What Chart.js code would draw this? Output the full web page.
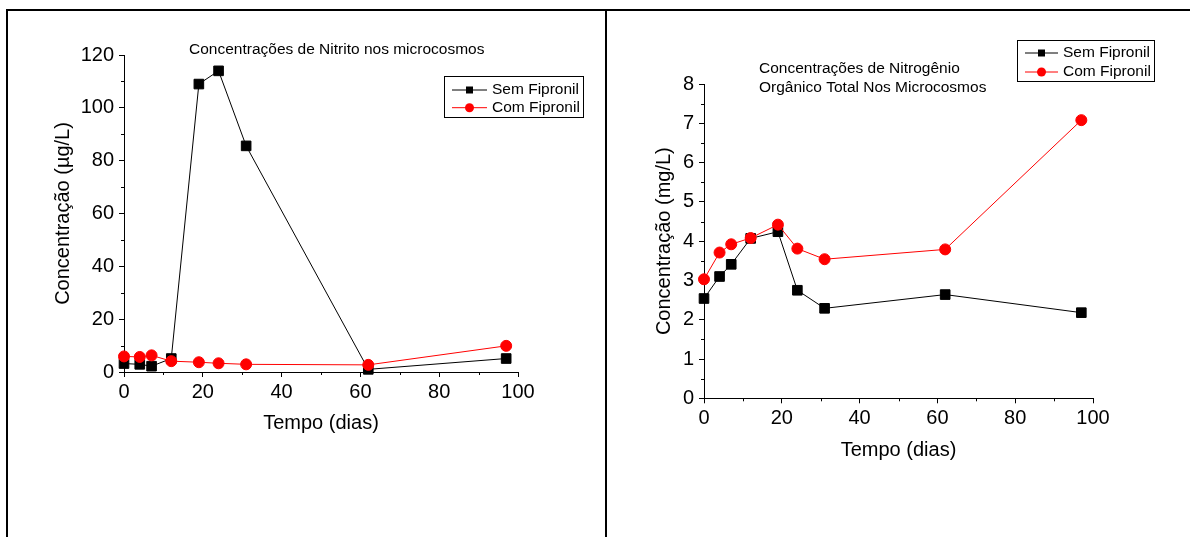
<!DOCTYPE html>
<html>
<head>
<meta charset="utf-8">
<script src="https://cdn.jsdelivr.net/npm/chart.js@4.4.1/dist/chart.umd.min.js"></script>
<style>
  html, body { margin: 0; padding: 0; background: #fff; }
  body { width: 1195px; height: 537px; position: relative; overflow: hidden; }
  canvas { position: absolute; }
  .rule { position: absolute; background: #000; }
</style>
</head>
<body>
<div class="rule" style="left:6px; top:9px; width:1184px; height:2px;"></div>
<div class="rule" style="left:6px; top:9px; width:2px; height:528px;"></div>
<div class="rule" style="left:605px; top:9px; width:2px; height:528px;"></div>
<canvas id="c1" width="597" height="526" style="left:8px; top:11px;"></canvas>
<canvas id="c2" width="588" height="526" style="left:607px; top:11px;"></canvas>
<script>
// ---- data ----
const days = [0, 4, 7, 12, 19, 24, 31, 62, 97];
const nitritoSem = [3.2, 2.9, 2.2, 5.1, 109, 114, 85.6, 1.0, 5.1];
const nitritoCom = [5.9, 5.7, 6.3, 4.1, 3.7, 3.3, 2.9, 2.7, 9.9];
const norgSem = [2.54, 3.10, 3.41, 4.07, 4.24, 2.75, 2.29, 2.64, 2.18];
const norgCom = [3.03, 3.71, 3.92, 4.08, 4.42, 3.81, 3.54, 3.79, 7.08];
const seriesLabels = ['Sem Fipronil', 'Com Fipronil'];
const xTicks = [0, 20, 40, 60, 80, 100];
const xMinorTicks = [10, 30, 50, 70, 90];
const yTicksNitrito = [0, 20, 40, 60, 80, 100, 120];
const yMinorNitrito = [10, 30, 50, 70, 90, 110];
const yTicksNorg = [0, 1, 2, 3, 4, 5, 6, 7, 8];
const yMinorNorg = [0.5, 1.5, 2.5, 3.5, 4.5, 5.5, 6.5, 7.5];
const title1 = ['Concentrações de Nitrito nos microcosmos'];
const title2 = ['Concentrações de Nitrogênio', 'Orgânico Total Nos Microcosmos'];
const xTitle = 'Tempo (dias)';
const yTitle1 = 'Concentração (µg/L)';
const yTitle2 = 'Concentração (mg/L)';

const FONT = 'Arial, "Liberation Sans", sans-serif';

const extras = {
  id: 'extras',
  afterDraw(chart, args, o) {
    const ctx = chart.ctx;
    const xs = chart.scales.x, ys = chart.scales.y;
    ctx.save();
    ctx.strokeStyle = '#000';
    ctx.lineWidth = 1;
    o.xMinor.forEach(v => {
      const px = Math.round(xs.getPixelForValue(v)) + 0.5;
      ctx.beginPath(); ctx.moveTo(px, xs.top); ctx.lineTo(px, xs.top + 3); ctx.stroke();
    });
    o.yMinor.forEach(v => {
      const py = Math.round(ys.getPixelForValue(v)) + 0.5;
      ctx.beginPath(); ctx.moveTo(ys.right, py); ctx.lineTo(ys.right - 3, py); ctx.stroke();
    });
    // title
    ctx.fillStyle = '#000';
    ctx.font = '15.5px ' + FONT;
    ctx.textAlign = 'left';
    ctx.textBaseline = 'middle';
    o.title.forEach((t, i) => ctx.fillText(t, o.titleX, o.titleY + i * 19));
    // legend
    const L = o.legend;
    ctx.lineWidth = 1;
    ctx.strokeStyle = '#000';
    ctx.strokeRect(L.x + 0.5, L.y + 0.5, L.w, L.h);
    chart.data.datasets.slice().sort((a, b) => a.legendIndex - b.legendIndex).forEach((ds, i) => {
      const cy = L.y + L.row0 + i * L.rowGap;
      ctx.strokeStyle = ds.borderColor;
      ctx.beginPath(); ctx.moveTo(L.x + L.lineStart, cy); ctx.lineTo(L.x + L.lineEnd, cy); ctx.stroke();
      ctx.fillStyle = ds.backgroundColor;
      const mx = L.x + (L.lineStart + L.lineEnd) / 2;
      if (ds.pointStyle === 'rect') {
        ctx.fillRect(mx - 3.5, cy - 3.5, 7, 7);
      } else {
        ctx.beginPath(); ctx.arc(mx, cy, 4.5, 0, Math.PI * 2); ctx.fill();
      }
      ctx.fillStyle = '#000';
      ctx.fillText(ds.label, L.x + L.textX, cy);
    });
    ctx.restore();
  }
};

function makeChart(id, semData, comData, yTickVals, yMinor, yMax, yTitle, cfg) {
  return new Chart(document.getElementById(id), {
    type: 'line',
    data: {
      datasets: [
        {
          label: seriesLabels[1], legendIndex: 1, order: 0,
          data: days.map((d, i) => ({ x: d, y: comData[i] })),
          borderColor: '#ff0000', backgroundColor: '#ff0000',
          borderWidth: 1, pointStyle: 'circle', pointRadius: 5.5,
          pointBorderWidth: 1, pointBorderColor: '#ff0000', pointBackgroundColor: '#ff0000',
          clip: false, tension: 0
        },
        {
          label: seriesLabels[0], legendIndex: 0, order: 1,
          data: days.map((d, i) => ({ x: d, y: semData[i] })),
          borderColor: '#000000', backgroundColor: '#000000',
          borderWidth: 1, pointStyle: 'rect', pointRadius: 6.8,
          pointBorderWidth: 1, pointBorderColor: '#000000', pointBackgroundColor: '#000000',
          clip: false, tension: 0
        }
      ]
    },
    options: {
      responsive: false,
      animation: false,
      devicePixelRatio: 1,
      layout: { padding: cfg.padding },
      plugins: {
        legend: { display: false },
        tooltip: { enabled: false },
        extras: {
          xMinor: xMinorTicks, yMinor: yMinor,
          title: cfg.title, titleX: cfg.titleX, titleY: cfg.titleY,
          legend: cfg.legend
        }
      },
      scales: {
        x: {
          type: 'linear', min: 0, max: 100,
          afterBuildTicks: s => { s.ticks = xTicks.map(v => ({ value: v })); },
          afterFit: s => { s.height = cfg.xHeight; },
          grid: { drawOnChartArea: false, drawTicks: true, tickLength: 5, color: '#000', tickWidth: 1 },
          border: { display: true, color: '#000', width: 1 },
          ticks: { color: '#000', font: { family: FONT, size: 20 }, padding: 3, autoSkip: false, maxRotation: 0 },
          title: { display: true, text: xTitle, color: '#000', font: { family: FONT, size: 20 }, padding: { top: 0, bottom: cfg.xTitlePad } }
        },
        y: {
          type: 'linear', min: 0, max: yMax,
          afterBuildTicks: s => { s.ticks = yTickVals.map(v => ({ value: v })); },
          afterFit: s => { s.width = cfg.yWidth; },
          grid: { drawOnChartArea: false, drawTicks: true, tickLength: 5, color: '#000', tickWidth: 1 },
          border: { display: true, color: '#000', width: 1 },
          ticks: { color: '#000', font: { family: FONT, size: 20 }, padding: 5, autoSkip: false },
          title: { display: true, text: yTitle, color: '#000', font: { family: FONT, size: 20 }, padding: { top: cfg.yTitlePad, bottom: 0 } }
        }
      }
    },
    plugins: [extras]
  });
}

makeChart('c1', nitritoSem, nitritoCom, yTicksNitrito, yMinorNitrito, 120, yTitle1, {
  padding: { left: 0, top: 44, right: 87, bottom: 0 },
  xHeight: 165, yWidth: 116,
  xTitlePad: 101.7, yTitlePad: 43,
  title: title1, titleX: 181, titleY: 39,
  legend: { x: 436, y: 65, w: 139, h: 41, row0: 14, rowGap: 17.7, lineStart: 8, lineEnd: 43, textX: 48 }
});

makeChart('c2', norgSem, norgCom, yTicksNorg, yMinorNorg, 8, yTitle2, {
  padding: { left: 0, top: 73, right: 102, bottom: 0 },
  xHeight: 138.7, yWidth: 97,
  xTitlePad: 74.3, yTitlePad: 45,
  title: title2, titleX: 152, titleY: 57.3,
  legend: { x: 410, y: 29, w: 137, h: 41, row0: 13, rowGap: 19, lineStart: 8, lineEnd: 41, textX: 46 }
});
</script>
</body>
</html>
